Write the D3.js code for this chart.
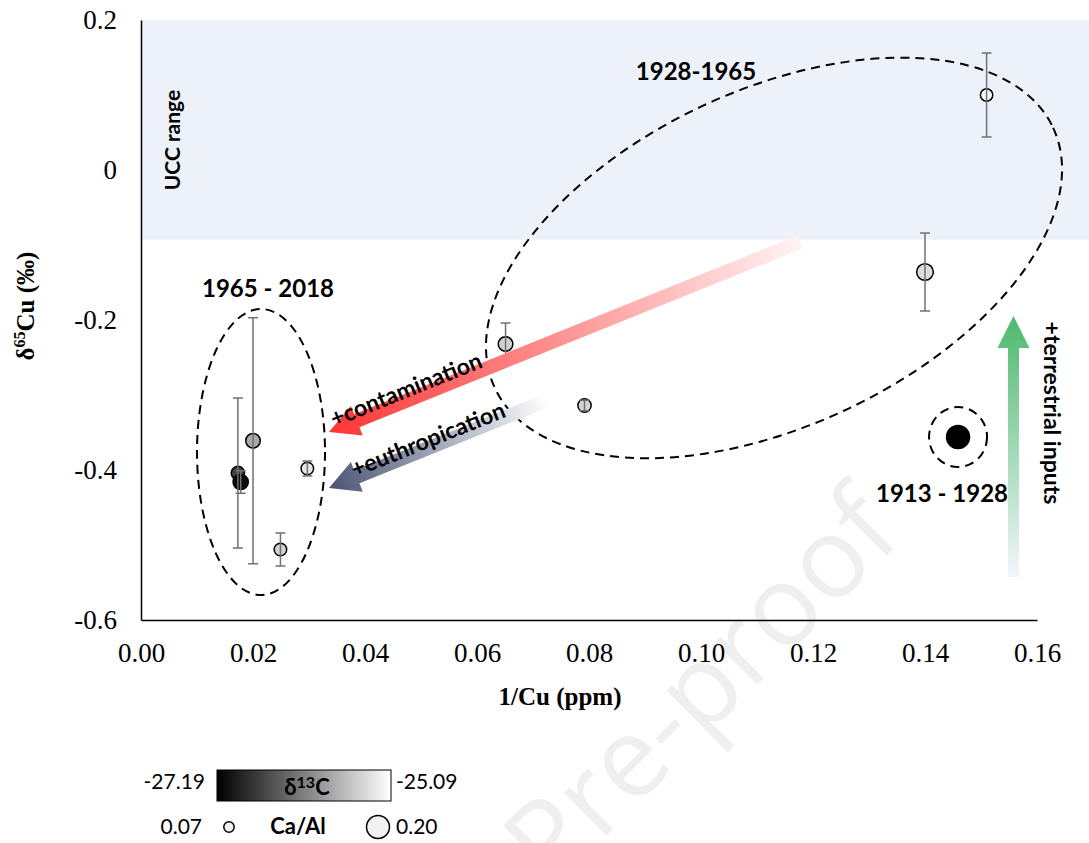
<!DOCTYPE html>
<html>
<head>
<meta charset="utf-8">
<script src="https://cdn.jsdelivr.net/npm/d3@7/dist/d3.min.js"></script>
<style>
body { margin: 0; background: #fff; }
svg { display: block; }
.axis text { font-family: "Liberation Serif", "Times New Roman", serif; font-size: 27px; fill: #000; }
.axis path { stroke: #000; stroke-width: 1.5; }
.title { font-family: "Liberation Serif", "Times New Roman", serif; font-weight: bold; font-size: 25px; fill: #000; }
.ann { font-family: Lato, "Open Sans", sans-serif; font-weight: 700; fill: #000; }
.leg { font-family: Lato, "Open Sans", sans-serif; font-size: 21px; fill: #000; }
</style>
</head>
<body>
<div class="chart"></div>
<script>
// 1/Cu vs d65Cu, marker size = Ca/Al, marker shade = d13C
const invCu  = [0.1510, 0.1400, 0.0651, 0.0792, 0.1459, 0.0297, 0.0249, 0.0200, 0.0173, 0.0178];
const d65Cu  = [0.100, -0.136, -0.232, -0.314, -0.356, -0.398, -0.506, -0.361, -0.404, -0.416];
const d65Err = [0.056, 0.052, 0.028, 0.007, 0, 0.010, 0.022, 0.164, 0.100, 0.015];
const caAl   = [0.090, 0.135, 0.113, 0.100, 0.200, 0.092, 0.092, 0.113, 0.100, 0.120];
const d13C   = [-25.12, -25.37, -25.48, -25.45, -27.19, -25.30, -25.45, -25.80, -26.66, -27.10];

const xTicks = [0, 0.02, 0.04, 0.06, 0.08, 0.10, 0.12, 0.14, 0.16];
const yTicks = [0.2, 0, -0.2, -0.4, -0.6];

const uccRange = [-0.093, 0.2];
const d13CRange = [-27.19, -25.09];
const caAlRange = [0.07, 0.20];

const width = 1089, height = 843;

const svg = d3.select(".chart").append("svg")
  .attr("width", width)
  .attr("height", height);

const defs = svg.append("defs");

const x = d3.scaleLinear().domain([0, 0.16]).range([141, 1037]);
const y = d3.scaleLinear().domain([-0.6, 0.2]).range([620, 20]);
const radius = d3.scaleLinear().domain(caAlRange).range([5.2, 11.5]);
const shade = d3.scaleLinear().domain(d13CRange).range(["#000000", "#ffffff"]);

// watermark
svg.append("text")
  .attr("transform", "translate(552,890) rotate(-45)")
  .style("font-family", "'Open Sans', sans-serif")
  .style("font-size", "112px")
  .style("fill", "#efefef")
  .text("Pre-proof");

// UCC band
svg.append("rect")
  .attr("x", x(0))
  .attr("y", y(uccRange[1]))
  .attr("width", width - x(0))
  .attr("height", y(uccRange[0]) - y(uccRange[1]))
  .attr("fill", "#edf1f9");

svg.append("text")
  .attr("class", "ann")
  .attr("transform", "translate(180,140) rotate(-90)")
  .attr("text-anchor", "middle")
  .style("font-size", "21px")
  .text("UCC range");

// axes
svg.append("g")
  .attr("class", "axis")
  .attr("transform", `translate(0,${y(-0.6)})`)
  .call(d3.axisBottom(x).tickValues(xTicks).tickSize(0).tickSizeOuter(0).tickPadding(23)
    .tickFormat(d3.format(".2f")));

svg.append("g")
  .attr("class", "axis")
  .attr("transform", `translate(${x(0)},0)`)
  .call(d3.axisLeft(y).tickValues(yTicks).tickSize(0).tickSizeOuter(0).tickPadding(24)
    .tickFormat(d => d === 0 ? "0" : d.toFixed(1)));

svg.append("text")
  .attr("class", "title")
  .attr("x", 560)
  .attr("y", 705)
  .attr("text-anchor", "middle")
  .text("1/Cu (ppm)");

const yt = svg.append("text")
  .attr("class", "title")
  .attr("transform", "translate(34,306) rotate(-90)")
  .attr("text-anchor", "middle");
yt.append("tspan").text("δ");
yt.append("tspan").attr("dy", -9).style("font-size", "16px").text("65");
yt.append("tspan").attr("dy", 9).text("Cu (‰)");

// group ellipses
const groups = [
  { label: "1928-1965",   cx: 0.11304, cy: -0.1173, rx: 308, ry: 168, rot: -25, lx: 696, ly: 80 },
  { label: "1965 - 2018", cx: 0.02143, cy: -0.376,  rx: 64,  ry: 143, rot: 0,   lx: 268, ly: 297 },
  { label: "1913 - 1928", cx: 0.1459,  cy: -0.356,  rx: 29,  ry: 30,  rot: 0,   lx: 942, ly: 502 }
];

svg.append("g").selectAll("ellipse")
  .data(groups)
  .join("ellipse")
  .attr("transform", d => `translate(${x(d.cx)},${y(d.cy)}) rotate(${d.rot})`)
  .attr("rx", d => d.rx)
  .attr("ry", d => d.ry)
  .attr("fill", "none")
  .attr("stroke", "#000")
  .attr("stroke-width", 2)
  .attr("stroke-dasharray", "9,6");

svg.append("g").selectAll("text")
  .data(groups)
  .join("text")
  .attr("class", "ann")
  .attr("x", d => d.lx)
  .attr("y", d => d.ly)
  .attr("text-anchor", "middle")
  .style("font-size", "24px")
  .text(d => d.label);

// points
const pts = invCu.map((v, i) => ({ x: v, y: d65Cu[i], e: d65Err[i], ca: caAl[i], c: d13C[i] }));

svg.append("g").selectAll("circle")
  .data(pts)
  .join("circle")
  .attr("cx", d => x(d.x))
  .attr("cy", d => y(d.y))
  .attr("r", d => radius(d.ca))
  .attr("fill", d => shade(d.c))
  .attr("stroke", "#000")
  .attr("stroke-width", 1.5);

const err = svg.append("g")
  .attr("stroke", "#707070")
  .attr("stroke-width", 1.5)
  .selectAll("g")
  .data(pts.filter(d => d.e > 0))
  .join("g");

err.append("line")
  .attr("x1", d => x(d.x)).attr("x2", d => x(d.x))
  .attr("y1", d => y(d.y + d.e)).attr("y2", d => y(d.y - d.e));
err.append("line")
  .attr("x1", d => x(d.x) - 5).attr("x2", d => x(d.x) + 5)
  .attr("y1", d => y(d.y + d.e)).attr("y2", d => y(d.y + d.e));
err.append("line")
  .attr("x1", d => x(d.x) - 5).attr("x2", d => x(d.x) + 5)
  .attr("y1", d => y(d.y - d.e)).attr("y2", d => y(d.y - d.e));

// gradient arrows
const arrows = [
  { id: "red",   tip: [0.03357, -0.3493], tail: [0.11768, -0.0960], c0: "#ff3535", c1: "#fff4f4", hw: 16, sw: 7, hl: 30,
    label: "+contamination", lp: [409, 397] },
  { id: "blue",  tip: [0.03357, -0.4240], tail: [0.07268, -0.3067], c0: "#4a5574", c1: "#ffffff", hw: 16, sw: 7, hl: 30,
    label: "+euthropication", lp: [431, 447] },
  { id: "green", tip: [0.15580, -0.1947], tail: [0.15580, -0.5427], c0: "#4cb96e", c1: "#f3f6fb", hw: 16, sw: 5.5, hl: 32,
    label: null }
];

arrows.forEach(a => {
  const tx = x(a.tip[0]), ty = y(a.tip[1]);
  const dx = x(a.tail[0]) - tx, dy = y(a.tail[1]) - ty;
  const len = Math.sqrt(dx * dx + dy * dy);
  const ang = Math.atan2(dy, dx) * 180 / Math.PI;

  const grad = defs.append("linearGradient")
    .attr("id", "g-" + a.id)
    .attr("gradientUnits", "userSpaceOnUse")
    .attr("x1", 0).attr("y1", 0).attr("x2", len).attr("y2", 0);
  grad.append("stop").attr("offset", 0).attr("stop-color", a.c0);
  grad.append("stop").attr("offset", 1).attr("stop-color", a.c1);

  const p = d3.path();
  p.moveTo(0, 0);
  p.lineTo(a.hl, -a.hw);
  p.lineTo(a.hl, -a.sw);
  p.lineTo(len, -a.sw);
  p.lineTo(len, a.sw);
  p.lineTo(a.hl, a.sw);
  p.lineTo(a.hl, a.hw);
  p.closePath();

  svg.append("path")
    .attr("transform", `translate(${tx},${ty}) rotate(${ang})`)
    .attr("d", p.toString())
    .attr("fill", `url(#g-${a.id})`);

  if (a.label) {
    svg.append("text")
      .attr("class", "ann")
      .attr("transform", `translate(${a.lp[0]},${a.lp[1]}) rotate(${ang})`)
      .attr("text-anchor", "middle")
      .style("font-size", "23px")
      .text(a.label);
  }
});

svg.append("text")
  .attr("class", "ann")
  .attr("transform", "translate(1044,413) rotate(90)")
  .attr("text-anchor", "middle")
  .style("font-size", "23px")
  .text("+terrestrial inputs");

// legend
const lg = defs.append("linearGradient").attr("id", "g-leg");
lg.append("stop").attr("offset", 0).attr("stop-color", shade(d13CRange[0]));
lg.append("stop").attr("offset", 1).attr("stop-color", shade(d13CRange[1]));

svg.append("rect")
  .attr("x", 217).attr("y", 770)
  .attr("width", 174).attr("height", 31)
  .attr("fill", "url(#g-leg)")
  .attr("stroke", "#000")
  .attr("stroke-width", 1);

const lt = svg.append("text")
  .attr("class", "leg")
  .attr("x", 307).attr("y", 795)
  .attr("text-anchor", "middle")
  .style("font-weight", "700")
  .style("font-size", "22px");
lt.append("tspan").text("δ");
lt.append("tspan").attr("dy", -7).style("font-size", "16px").text("13");
lt.append("tspan").attr("dy", 7).text("C");

svg.append("text").attr("class", "leg").attr("x", 205).attr("y", 789)
  .attr("text-anchor", "end").text(d13CRange[0].toFixed(2));
svg.append("text").attr("class", "leg").attr("x", 396).attr("y", 789)
  .text(d13CRange[1].toFixed(2));

svg.append("text").attr("class", "leg").attr("x", 202).attr("y", 834)
  .attr("text-anchor", "end").text(caAlRange[0].toFixed(2));
svg.append("text").attr("class", "leg").attr("x", 396).attr("y", 834)
  .text(caAlRange[1].toFixed(2));
svg.append("text").attr("class", "leg").attr("x", 298).attr("y", 834)
  .attr("text-anchor", "middle").style("font-weight", "700").style("font-size", "22px")
  .text("Ca/Al");

svg.append("circle").attr("cx", 229).attr("cy", 827).attr("r", radius(caAlRange[0]))
  .attr("fill", "#f2f2f2").attr("stroke", "#000").attr("stroke-width", 1.5);
svg.append("circle").attr("cx", 378).attr("cy", 827).attr("r", radius(caAlRange[1]))
  .attr("fill", "#f2f2f2").attr("stroke", "#000").attr("stroke-width", 1.5);
</script>
</body>
</html>
